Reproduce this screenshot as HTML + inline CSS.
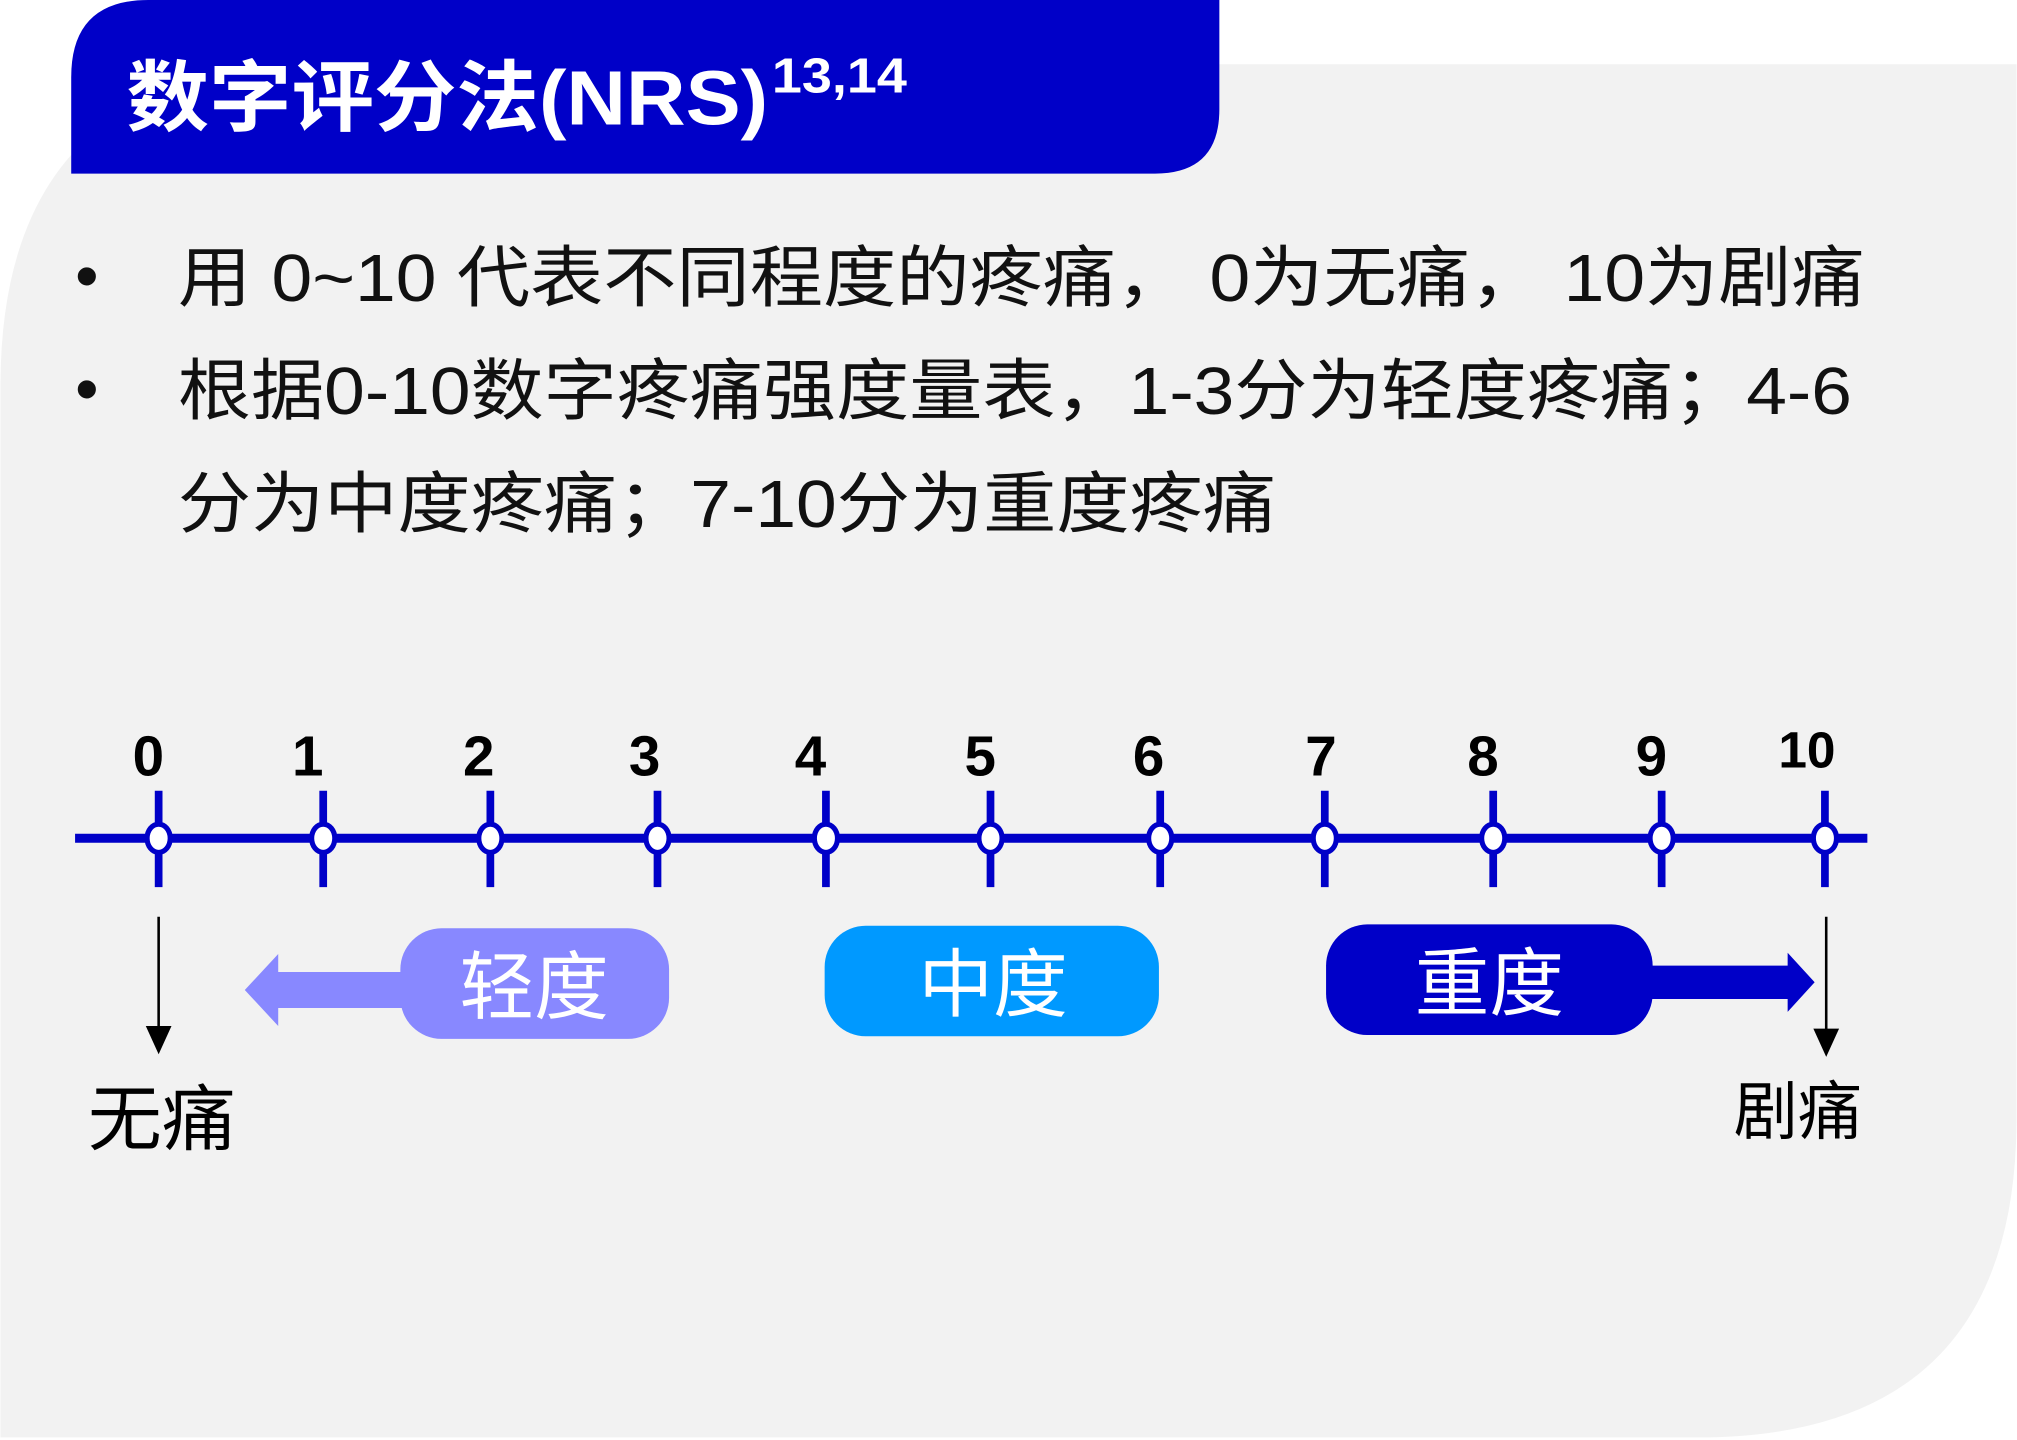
<!DOCTYPE html>
<html><head><meta charset="utf-8"><style>
html,body{margin:0;padding:0;background:#fff;}
svg{display:block;}
text{font-family:"Liberation Sans","Noto Sans CJK SC",sans-serif;}
</style></head><body>
<svg width="2017" height="1440" viewBox="0 0 1568 1120" xmlns="http://www.w3.org/2000/svg">
<path d="M0 1118 L0 300 Q0 50 250 50 L1568 50 L1568 870 Q1568 1118 1320 1118 Z" fill="#f2f2f2"/>
<path d="M55 135 L55 60 Q55 0 115 0 L948 0 L948 85 Q948 135 898 135 Z" fill="#0000c8"/>
<text x="98" y="97" fill="#fff" font-size="60" font-weight="bold" textLength="499" lengthAdjust="spacingAndGlyphs">数字评分法(NRS)</text>
<text x="600" y="72" fill="#fff" font-size="38" font-weight="bold" textLength="105" lengthAdjust="spacingAndGlyphs">13,14</text>
<g font-size="52" fill="#111">
<text x="58" y="232">•</text>
<text x="138" y="234" textLength="1312" lengthAdjust="spacingAndGlyphs">用 0~10 代表不同程度的疼痛， 0为无痛， 10为剧痛</text>
<text x="58" y="320">•</text>
<text x="138" y="322" textLength="1302" lengthAdjust="spacingAndGlyphs">根据0-10数字疼痛强度量表，1-3分为轻度疼痛；4-6</text>
<text x="138" y="410" textLength="854" lengthAdjust="spacingAndGlyphs">分为中度疼痛；7-10分为重度疼痛</text>
</g>
<line x1="58" y1="652" x2="1452" y2="652" stroke="#0000c8" stroke-width="7"/>
<g stroke="#0000c8" stroke-width="6">
<line x1="123" y1="615" x2="123" y2="690"/><line x1="251" y1="615" x2="251" y2="690"/>
<line x1="381" y1="615" x2="381" y2="690"/><line x1="511" y1="615" x2="511" y2="690"/>
<line x1="642" y1="615" x2="642" y2="690"/><line x1="770" y1="615" x2="770" y2="690"/>
<line x1="902" y1="615" x2="902" y2="690"/><line x1="1030" y1="615" x2="1030" y2="690"/>
<line x1="1161" y1="615" x2="1161" y2="690"/><line x1="1292" y1="615" x2="1292" y2="690"/>
<line x1="1419" y1="615" x2="1419" y2="690"/>
</g>
<g fill="#fff" stroke="#0000c8" stroke-width="4">
<ellipse cx="123" cy="652" rx="9" ry="11"/><ellipse cx="251" cy="652" rx="9" ry="11"/>
<ellipse cx="381" cy="652" rx="9" ry="11"/><ellipse cx="511" cy="652" rx="9" ry="11"/>
<ellipse cx="642" cy="652" rx="9" ry="11"/><ellipse cx="770" cy="652" rx="9" ry="11"/>
<ellipse cx="902" cy="652" rx="9" ry="11"/><ellipse cx="1030" cy="652" rx="9" ry="11"/>
<ellipse cx="1161" cy="652" rx="9" ry="11"/><ellipse cx="1292" cy="652" rx="9" ry="11"/>
<ellipse cx="1419" cy="652" rx="9" ry="11"/>
</g>
<g font-size="44" font-weight="bold" fill="#000" text-anchor="middle">
<text x="115" y="603">0</text><text x="239" y="603">1</text><text x="372" y="603">2</text>
<text x="501" y="603">3</text><text x="630" y="603">4</text><text x="762" y="603">5</text>
<text x="893" y="603">6</text><text x="1027" y="603">7</text><text x="1153" y="603">8</text>
<text x="1284" y="603">9</text><text x="1405" y="597" font-size="40">10</text>
</g>
<line x1="123" y1="713" x2="123" y2="802" stroke="#000" stroke-width="2"/>
<polygon points="113,798 133,798 123,820" fill="#000"/>
<line x1="1420" y1="713" x2="1420" y2="804" stroke="#000" stroke-width="2"/>
<polygon points="1410,800 1430,800 1420,822" fill="#000"/>
<text x="68" y="890" font-size="56" fill="#000" textLength="115" lengthAdjust="spacingAndGlyphs">无痛</text>
<text x="1348" y="882" font-size="50" fill="#000">剧痛</text>
<polygon points="190,770 216,742 216,756 320,756 320,784 216,784 216,798" fill="#8888ff"/>
<rect x="311" y="722" width="209" height="86" rx="32" fill="#8888ff"/>
<text x="415" y="788" font-size="58" fill="#fff" text-anchor="middle">轻度</text>
<rect x="641" y="720" width="260" height="86" rx="32" fill="#0099ff"/>
<text x="772" y="786" font-size="58" fill="#fff" text-anchor="middle">中度</text>
<polygon points="1280,751 1390,751 1390,741 1411,764 1390,787 1390,777 1280,777" fill="#0000c8"/>
<rect x="1031" y="719" width="254" height="86" rx="32" fill="#0000c8"/>
<text x="1158" y="785" font-size="58" fill="#fff" text-anchor="middle">重度</text>
</svg>
</body></html>
